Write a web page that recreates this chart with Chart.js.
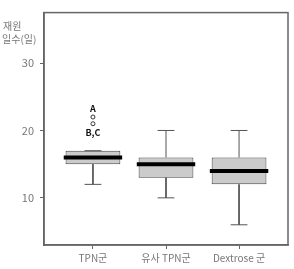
<!DOCTYPE html>
<html>
<head>
<meta charset="utf-8">
<script src="https://cdn.jsdelivr.net/npm/chart.js@4"></script>
<style>
  html, body { margin: 0; padding: 0; background: #fff; }
  #wrap { width: 294px; height: 269px; }
</style>
</head>
<body>
<div id="wrap"><canvas id="myChart"></canvas></div>
<script>
const groups = ['TPN군', '유사 TPN군', 'Dextrose 군'];
const mins = [12, 10, 6];
const q1s = [15, 13, 12];
const medians = [16, 15, 14];
const q3s = [17, 16, 16];
const maxs = [17, 20, 20];
const outlierValues = [22, 21];
const outlierGroup = [1, 1];
const outlierLabels = ['A', 'B,C'];
const yTicks = [10, 20, 30];

const font = "'Noto Sans CJK KR', 'Noto Sans', sans-serif";
const grey = '#555';

// build line segments from the arrays, null breaks the line
const whiskers = [];
const caps = [];
const medLines = [];
groups.forEach((g, i) => {
    const x = i + 1;
    whiskers.push({x: x, y: q3s[i]}, {x: x, y: maxs[i]}, {x: x, y: null});
    whiskers.push({x: x, y: q1s[i]}, {x: x, y: mins[i]}, {x: x, y: null});
    caps.push({x: x - 0.115, y: maxs[i]}, {x: x + 0.115, y: maxs[i]}, {x: x, y: null});
    caps.push({x: x - 0.115, y: mins[i]}, {x: x + 0.115, y: mins[i]}, {x: x, y: null});
    medLines.push({x: x - 0.4, y: medians[i]}, {x: x + 0.4, y: medians[i]}, {x: x, y: null});
});

const frameAndText = {
    id: 'frameAndText',
    afterDatasetsDraw(chart) {
        const c = chart.ctx;
        const a = chart.chartArea;
        const xs = chart.scales.x;
        const ys = chart.scales.y;
        c.save();
        c.strokeStyle = '#666';
        c.lineWidth = 1.5;
        c.strokeRect(a.left, a.top, a.right - a.left, a.bottom - a.top);

        c.fillStyle = '#111';
        c.font = 'bold 9px ' + font;
        c.textAlign = 'center';
        c.textBaseline = 'middle';
        outlierValues.forEach((v, k) => {
            const px = xs.getPixelForValue(outlierGroup[k]);
            const py = ys.getPixelForValue(v);
            const off = k === 0 ? -8 : 9;
            c.fillText(outlierLabels[k], px, py + off);
        });

        c.fillStyle = '#777';
        c.font = '10px ' + font;
        c.textAlign = 'left';
        c.fillText('재원', 3, 26);
        c.fillText('일수(일)', 2, 39);
        c.restore();
    }
};

new Chart(document.getElementById('myChart'), {
type: 'bar',
data: {
    datasets: [{
        type: 'bar',
        data: groups.map((g, i) => ({x: i + 1, y: [q1s[i], q3s[i]]})),
        backgroundColor: '#cbcbcb',
        borderColor: '#444',
        borderWidth: 1,
        borderSkipped: false,
        barPercentage: 0.75,
        categoryPercentage: 1,
        order: 3
    }, {
        type: 'line',
        data: whiskers,
        borderColor: grey,
        borderWidth: 1,
        pointRadius: 0,
        spanGaps: false,
        order: 2
    }, {
        type: 'line',
        data: caps,
        borderColor: grey,
        borderWidth: 1,
        pointRadius: 0,
        spanGaps: false,
        order: 2
    }, {
        type: 'line',
        data: medLines,
        borderColor: '#000',
        borderWidth: 4,
        borderCapStyle: 'butt',
        pointRadius: 0,
        spanGaps: false,
        order: 1
    }, {
        type: 'scatter',
        data: outlierValues.map((v, k) => ({x: outlierGroup[k], y: v})),
        pointRadius: 2,
        pointBackgroundColor: '#fff',
        pointBorderColor: '#333',
        pointBorderWidth: 1,
        order: 0
    }]
},
options: {
    responsive: true,
    maintainAspectRatio: false,
    animation: false,
    layout: { padding: { top: 9, right: 6, left: 0, bottom: 0 } },
    plugins: {
        legend: { display: false },
        tooltip: { enabled: false }
    },
    scales: {
        x: {
            type: 'linear',
            min: 0.33,
            max: 3.67,
            offset: false,
            afterBuildTicks: (s) => { s.ticks = groups.map((g, i) => ({value: i + 1})); },
            afterFit: (s) => { s.height = 24; },
            ticks: {
                callback: (v) => groups[v - 1],
                color: '#777',
                font: { family: font, size: 10 },
                padding: 3,
                maxRotation: 0
            },
            grid: { display: true, drawOnChartArea: false, drawTicks: true, tickLength: 4, color: '#666', offset: false },
            border: { display: true, color: '#666', width: 1.5 }
        },
        y: {
            min: 3,
            max: 37.5,
            afterBuildTicks: (s) => { s.ticks = yTicks.map(v => ({value: v})); },
            afterFit: (s) => { s.width = 44; },
            ticks: {
                color: '#777',
                font: { family: font, size: 11 },
                padding: 6
            },
            grid: { display: true, drawOnChartArea: false, drawTicks: true, tickLength: 4, color: '#666' },
            border: { display: true, color: '#666', width: 1.5 }
        }
    }
},
plugins: [frameAndText]
})
</script>
</body>
</html>
